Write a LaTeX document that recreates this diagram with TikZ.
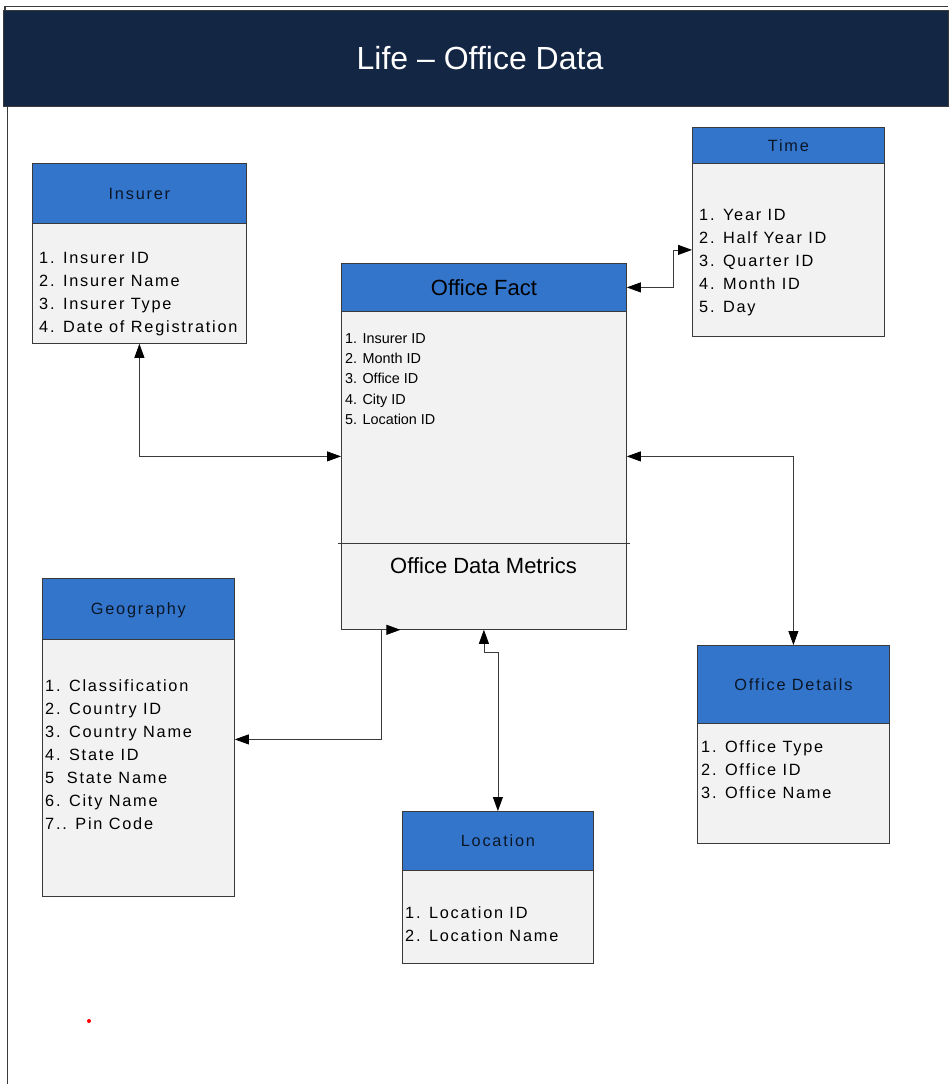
\documentclass[tikz,border=0pt]{standalone}
\usepackage{fontspec}
\setmainfont{Liberation Sans}
\newfontfamily\trk[LetterSpace=11]{Liberation Sans}
\usetikzlibrary{arrows.meta,calc}

\definecolor{navy}{HTML}{132644}
\definecolor{hdrblue}{HTML}{3375CB}
\definecolor{bodygray}{HTML}{F2F2F2}
\definecolor{edge}{HTML}{3A3A3A}
\definecolor{hdrtext}{HTML}{0B1626}

\tikzset{
  box/.style={draw=edge, line width=0.8pt, anchor=north west, inner sep=0pt},
  hdr/.style={box, fill=hdrblue, text=hdrtext, font=\trk\fontsize{16.3}{19}\selectfont, text depth=0pt},
  body/.style={box, fill=bodygray},
  items/.style={anchor=north west, inner sep=0pt, align=left, font=\trk\fontsize{16.3}{23}\selectfont},
  conn/.style={draw=edge, line width=0.8pt, {Triangle[length=14pt,width=10pt,black]}-{Triangle[length=14pt,width=10pt,black]}},
}

\begin{document}
\begin{tikzpicture}[x=1pt, y=-1pt]
\useasboundingbox (0,0) rectangle (948,1084);
\fill[white] (0,0) rectangle (948,1084);

% page frame and title banner
\draw[edge, line width=1.5pt] (5,10) -- (5,6.5) -- (948,6.5);
\draw[edge, line width=1.6pt] (7.5,106) -- (7.5,1084);
\node[fill=navy, draw=edge, line width=0.8pt, anchor=north west, inner sep=0pt,
      minimum width=945pt, minimum height=96pt] (banner) at (3,10) {};
\node[text=white, font=\fontsize{32}{36}\selectfont, text depth=0pt] (title) at (480,58) {Life – Office Data};

% Office Fact (central fact table)
\node[box, fill=hdrblue, minimum width=285pt, minimum height=48pt,
      font=\fontsize{22}{26}\selectfont, text depth=0pt, text=black] (ofh) at (341,263) {Office Fact};
\node[body, minimum width=285pt, minimum height=318pt] (ofb) at (341,311) {};
\node[anchor=north west, inner sep=0pt, align=left, font=\fontsize{14.4}{20.3}\selectfont] (ofi) at (345,333)
  {1. Insurer ID\\2. Month ID\\3. Office ID\\4. City ID\\5. Location ID};
\draw[edge, line width=0.8pt] ($(ofb.north west)+(-3,232)$) -- ($(ofb.north east)+(3,232)$);
\node[font=\fontsize{22}{26}\selectfont, text depth=0pt, inner sep=0pt] (ofm) at (483.5,566) {Office Data Metrics};

% Insurer
\node[hdr, minimum width=214pt, minimum height=60pt] (insh) at (32,163) {Insurer};
\node[body, minimum width=214pt, minimum height=120pt] (insb) at (32,223) {};
\node[items] (insi) at (39,252)
  {1. Insurer ID\\2. Insurer Name\\3. Insurer Type\\4. Date of Registration};

% Time
\node[hdr, minimum width=192pt, minimum height=36pt] (timeh) at (692,127) {Time};
\node[body, minimum width=192pt, minimum height=173pt] (timeb) at (692,163) {};
\node[items] (timei) at (699,209)
  {1. Year ID\\2. Half Year ID\\3. Quarter ID\\4. Month ID\\5. Day};

% Geography
\node[hdr, minimum width=192pt, minimum height=61pt] (geoh) at (42,578) {Geography};
\node[body, minimum width=192pt, minimum height=257pt] (geob) at (42,639) {};
\node[items] (geoi) at (45,679)
  {1. Classification\\2. Country ID\\3. Country Name\\4. State ID\\5\ \ State Name\\6. City Name\\7.. Pin Code};

% Office Details
\node[hdr, minimum width=192pt, minimum height=78pt] (odh) at (697,645) {Office Details};
\node[body, minimum width=192pt, minimum height=120pt] (odb) at (697,723) {};
\node[items] (odi) at (701,740)
  {1. Office Type\\2. Office ID\\3. Office Name};

% Location
\node[hdr, minimum width=191pt, minimum height=59pt] (loch) at (402,811) {Location};
\node[body, minimum width=191pt, minimum height=93pt] (locb) at (402,870) {};
\node[items] (loci) at (405,906)
  {1. Location ID\\2. Location Name};

% relationships
\draw[conn] (insb.south) |- ([yshift=14pt]ofb.west);
\draw[conn] (ofh.east) -- ++(47,0) |- (timeb.west);
\draw[conn] ([yshift=14pt]ofb.east) -| (odh.north);
\draw[conn] ([yshift=28.5pt]geob.east) -| ([xshift=-102.5pt]ofb.south) -- ([xshift=-83.5pt]ofb.south);
\draw[conn] (ofb.south) -- ++(0,23) -| (loch.north);

% stray marker
\fill[red] (89,1021) circle (2pt);
\end{tikzpicture}
\end{document}
